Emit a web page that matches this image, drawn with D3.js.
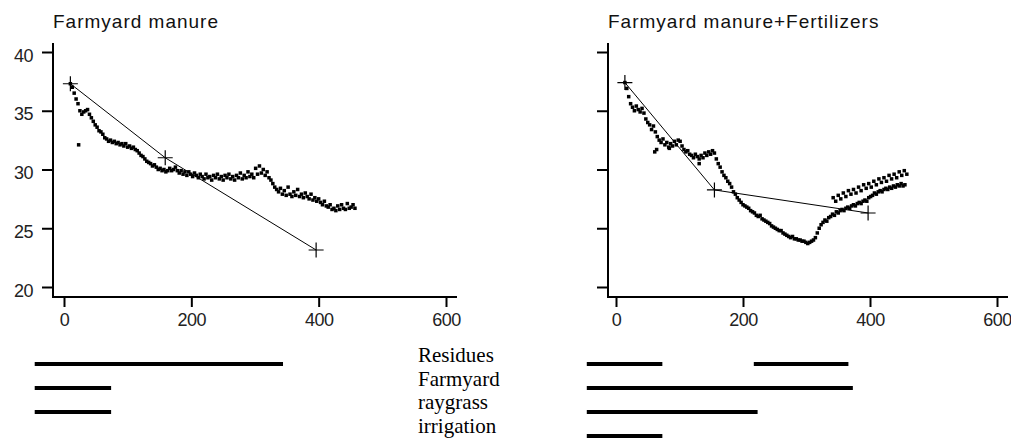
<!DOCTYPE html>
<html><head><meta charset="utf-8">
<script src="https://cdn.jsdelivr.net/npm/d3@7"></script>
<style>
body{margin:0;background:#fff;}
svg{display:block;}
.tk text{font-family:"Liberation Sans",Arial,sans-serif;font-size:18px;letter-spacing:-0.5px;fill:#222;}
.title{font-family:"Liberation Sans",Arial,sans-serif;font-size:19px;letter-spacing:1px;fill:#111;}
.lab{font-family:"Liberation Serif","Times New Roman",serif;font-size:21px;fill:#000;}
</style></head>
<body><svg id="c" width="1011" height="438"></svg>
<script>
// ---- data ----
const xTicks = [0, 200, 400, 600];
const yTicks = [20, 25, 30, 35, 40];
const titles = ["Farmyard manure", "Farmyard manure+Fertilizers"];

// Farmyard manure: measured points, every 3 days starting at day 10
const fmStart = 10, fmStep = 3;
const fmValues = [37.3,37.0,36.5,36.0,35.6,35.0,34.7,34.9,35.0,35.1,34.7,34.4,34.1,33.8,33.6,33.3,33.2,33.0,32.7,32.6,
32.4,32.5,32.3,32.4,32.2,32.3,32.1,32.2,32.0,32.2,31.9,32.0,31.8,31.9,31.7,31.6,31.4,31.2,31.1,30.9,
30.7,30.6,30.5,30.3,30.4,30.2,30.0,30.1,29.9,30.0,29.8,29.9,30.1,29.9,30.0,30.2,29.9,29.7,29.9,29.6,
29.8,29.5,29.8,29.6,29.4,29.7,29.5,29.3,29.6,29.4,29.2,29.6,29.3,29.4,29.1,29.5,29.3,29.6,29.2,29.4,
29.1,29.5,29.3,29.6,29.2,29.4,29.1,29.5,29.3,29.7,29.2,29.5,29.3,29.8,29.4,29.6,29.3,30.1,29.6,30.3,
29.7,30.0,29.5,29.8,29.3,29.1,28.8,28.5,28.3,28.1,28.4,27.9,28.2,27.8,28.5,27.9,27.7,28.1,27.8,28.3,
27.7,27.9,27.6,28.0,27.7,27.5,27.9,27.4,27.6,27.3,27.5,27.2,27.0,27.3,26.9,26.8,27.0,26.6,26.7,26.5,
26.9,26.6,27.0,26.7,26.6,27.1,26.7,26.8,27.0,26.7];
const fmExtraX = [23];
const fmExtraY = [32.1];
const fmTrendX = [10, 159, 396];
const fmTrendY = [37.3, 31.0, 23.15];

// Farmyard manure + fertilizers
const ffStart = 14, ffStep = 3;
const ffValues = [37.4,36.9,36.2,35.6,35.3,35.0,35.4,35.1,34.9,35.2,34.8,34.3,34.0,33.8,33.4,33.7,33.2,32.8,32.5,32.3,
32.6,32.1,32.3,31.9,32.2,32.0,32.4,32.1,32.5,32.4,32.0,31.7,31.5,31.6,31.3,31.2,31.0,31.3,31.1,30.9,
31.2,31.0,31.4,31.2,31.5,31.3,31.6,31.4,30.9,30.5,30.2,29.8,29.5,29.3,29.0,28.8,28.5,28.1,27.9,27.6,
27.4,27.2,27.0,26.9,26.8,26.7,26.5,26.4,26.3,26.1,26.0,26.1,25.8,25.7,25.6,25.5,25.4,25.2,25.1,25.0,
24.9,24.8,24.8,24.6,24.5,24.4,24.3,24.2,24.3,24.1,24.1,24.0,24.0,23.9,23.9,23.8,23.7,23.8,23.9,24.0,
24.2,24.6,25.0,25.3,25.5,25.7,25.6,25.9,26.0,26.2,26.1,26.4,26.3,26.5,26.6,26.5,26.7,26.8,26.7,26.9,
27.0,26.9,27.1,27.2,27.1,27.3,27.4,27.3,27.6,27.7,27.8,28.0,27.9,28.1,28.2,28.1,28.3,28.4,28.3,28.5,
28.4,28.6,28.5,28.7,28.6,28.8,28.6,28.7];
const ffUpperX = [342,346,350,354,358,362,366,370,374,378,382,386,390,394,398,402,406,410,414,418,422,426,430,434,438,442,446,450,454,458];
const ffUpperY = [27.6,27.3,27.8,27.5,28.0,27.7,28.2,27.9,28.3,28.0,28.5,28.2,28.7,28.4,28.8,28.5,29.0,28.7,29.2,28.9,29.3,29.0,29.5,29.2,29.6,29.3,29.8,29.5,29.9,29.6];
const ffExtraX = [61, 131, 64, 84];
const ffExtraY = [31.5, 30.5, 31.7, 31.8];
const ffTrendX = [14, 155, 397];
const ffTrendY = [37.4, 28.26, 26.3];

// management periods (days)
const rowLabels = ["Residues", "Farmyard", "raygrass", "irrigation"];
const fmPeriods = [[[-46, 344]], [[-46, 74]], [[-46, 74]], []];
const ffPeriods = [[[-46, 73], [217, 366]], [[-46, 373]], [[-46, 223]], [[-46, 73]]];

// ---- drawing ----
const svg = d3.select("#c");
const yS = d3.scaleLinear().domain([20, 40]).range([287, 52]);
const panels = [
  {x0: 53, xs: d3.scaleLinear().domain([0, 600]).range([64, 446]), xEnd: 457, title: titles[0], labels: true,
   start: fmStart, step: fmStep, vals: fmValues, ex: [fmExtraX, fmExtraY], up: null, tx: fmTrendX, ty: fmTrendY, per: fmPeriods},
  {x0: 608, xs: d3.scaleLinear().domain([0, 600]).range([616, 997]), xEnd: 1008, title: titles[1], labels: false,
   start: ffStart, step: ffStep, vals: ffValues, ex: [ffExtraX, ffExtraY], up: [ffUpperX, ffUpperY], tx: ffTrendX, ty: ffTrendY, per: ffPeriods}
];

panels.forEach(p => {
  const g = svg.append("g");
  g.append("text").attr("class", "title").attr("x", p.x0).attr("y", 28).text(p.title);
  // axes lines
  g.append("line").attr("x1", p.x0).attr("x2", p.x0).attr("y1", 43).attr("y2", 298).attr("stroke", "#000").attr("stroke-width", 2);
  g.append("line").attr("x1", p.x0).attr("x2", p.xEnd).attr("y1", 297).attr("y2", 297).attr("stroke", "#000").attr("stroke-width", 2);
  const ya = d3.axisLeft(yS).tickValues(yTicks).tickSizeInner(11).tickSizeOuter(0).tickPadding(9);
  if (!p.labels) ya.tickFormat("");
  const yg = g.append("g").attr("class", "tk").attr("transform", `translate(${p.x0},0)`).call(ya);
  yg.select(".domain").remove();
  yg.selectAll("line").attr("stroke-width", 2);
  yg.selectAll("text").attr("dy", "0.5em");
  const xa = d3.axisBottom(p.xs).tickValues(xTicks).tickSizeInner(10).tickSizeOuter(0).tickPadding(6);
  const xg = g.append("g").attr("class", "tk").attr("transform", "translate(0,297)").call(xa);
  xg.select(".domain").remove();
  xg.selectAll("line").attr("stroke-width", 2);

  // points
  const pts = p.vals.map((v, i) => [p.start + i * p.step, v]);
  p.ex[0].forEach((x, i) => pts.push([x, p.ex[1][i]]));
  if (p.up) p.up[0].forEach((x, i) => pts.push([x, p.up[1][i]]));
  g.append("g").selectAll("rect").data(pts).join("rect")
    .attr("x", d => p.xs(d[0]) - 1.75).attr("y", d => yS(d[1]) - 1.75)
    .attr("width", 3.5).attr("height", 3.5).attr("fill", "#000");

  // trend line and crosses
  const tr = p.tx.map((x, i) => [x, p.ty[i]]);
  g.append("path").attr("d", d3.line().x(d => p.xs(d[0])).y(d => yS(d[1]))(tr))
    .attr("fill", "none").attr("stroke", "#000").attr("stroke-width", 1);
  g.append("g").selectAll("path").data(tr).join("path")
    .attr("transform", d => `translate(${p.xs(d[0])},${yS(d[1])})`)
    .attr("d", "M-7.5,0H7.5M0,-7.5V7.5").attr("stroke", "#000").attr("stroke-width", 1.2).attr("fill", "none");

  // periods
  const rowY = [364, 388, 412, 436];
  p.per.forEach((segs, r) => {
    segs.forEach(s => {
      g.append("line").attr("x1", p.xs(s[0])).attr("x2", p.xs(s[1]))
        .attr("y1", rowY[r]).attr("y2", rowY[r]).attr("stroke", "#000").attr("stroke-width", 4);
    });
  });
});

const labY = [362, 386, 409, 433];
svg.append("g").selectAll("text").data(rowLabels).join("text").attr("class", "lab")
  .attr("x", 418).attr("y", (d, i) => labY[i]).text(d => d);
</script></body></html>
